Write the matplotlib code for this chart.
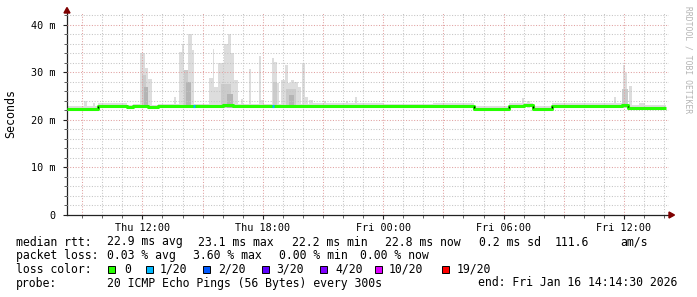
import matplotlib
matplotlib.use('Agg')
import matplotlib.pyplot as plt
from matplotlib.patches import Polygon, Rectangle

plt.rcParams['font.family'] = ['DejaVu Sans Mono']

# time axis in hours since Thu 00:00 (Thu 08:14:30 .. Fri 14:14:30)
t_start, t_end = 8.2417, 38.2417
tick_hours = [12, 18, 24, 30, 36]
tick_labels = ['Thu 12:00', 'Thu 18:00', 'Fri 00:00', 'Fri 06:00', 'Fri 12:00']
y_ticks = [0, 10, 20, 30, 40]
y_labels = ['0', '10 m', '20 m', '30 m', '40 m']

# median rtt (ms), step segments: start hour, value
median_t = [8.25, 9.8, 11.25, 11.55, 12.3, 12.8, 16.0, 16.5, 17.8, 20.5, 24.0,
            26.5, 28.5, 30.25, 31.0, 31.45, 32.4, 35.9, 36.2]
median_v = [22.35, 22.95, 22.7, 22.85, 22.7, 22.85, 23.1, 22.9, 22.85, 22.95, 22.9,
            22.95, 22.35, 22.95, 23.1, 22.4, 22.95, 23.1, 22.6]
median_end = 38.1

# segments with 1/20 packet loss
loss_t0 = [14.5, 18.45]
loss_t1 = [14.6, 18.55]

# smoke spikes: start hour, end hour, top (ms), shade level 0 light .. 2 dark
spike_t0 = [11.9, 12.05, 12.25, 12.0, 12.1, 9.1, 9.55, 13.55,
            13.8, 13.95, 14.05, 14.25, 14.4, 14.15,
            15.3, 15.5, 15.55, 15.75, 16.05, 16.25, 16.4, 16.55, 15.9, 16.2, 16.9,
            17.3, 17.8, 17.9, 18.45, 18.55, 18.7, 18.9, 19.1, 19.25, 19.4, 19.55,
            19.75, 19.95, 20.1, 20.3, 21.05, 22.15, 22.6, 18.5, 19.15, 19.3,
            30.9, 31.15, 35.5, 35.95, 36.05, 36.25, 35.9, 36.75]
spike_t1 = [12.15, 12.3, 12.5, 12.2, 12.3, 9.25, 9.65, 13.65,
            14.05, 14.05, 14.25, 14.45, 14.55, 14.4,
            15.5, 15.55, 15.75, 16.05, 16.25, 16.4, 16.55, 16.75, 16.4, 16.5, 17.0,
            17.4, 17.9, 18.05, 18.55, 18.7, 18.8, 19.1, 19.25, 19.4, 19.55, 19.75,
            19.9, 20.1, 20.25, 20.5, 21.15, 22.25, 22.7, 18.7, 19.65, 19.55,
            31.0, 31.3, 35.6, 36.05, 36.15, 36.4, 36.2, 37.05]
spike_top = [34.0, 30.9, 28.6, 29.5, 27.0, 23.9, 23.6, 24.8,
             34.4, 35.9, 30.5, 38.2, 34.7, 28.0,
             28.8, 35.0, 27.0, 31.9, 36.1, 38.2, 34.1, 28.4, 27.5, 25.5, 24.5,
             30.7, 33.5, 24.2, 33.0, 32.3, 27.8, 28.4, 31.6, 27.8, 28.4, 28.1,
             27.0, 31.9, 24.9, 24.2, 23.9, 24.0, 24.9, 28.0, 26.5, 25.2,
             24.7, 23.9, 24.9, 31.6, 29.8, 27.2, 26.5, 23.6]
spike_shade = [0, 0, 0, 1, 2, 0, 0, 0,
               0, 0, 1, 0, 0, 2,
               0, 0, 0, 0, 0, 0, 0, 0, 1, 2, 0,
               0, 0, 0, 0, 0, 0, 0, 0, 0, 0, 0,
               0, 0, 0, 0, 0, 0, 0, 1, 1, 2,
               0, 0, 0, 0, 0, 0, 1, 0]
shade_colors = ['#dddddd', '#cbcbcb', '#b4b4b4']
smoke_base = 22.6

loss_colors = ['#26ff00', '#00b8ff', '#0059ff', '#5e00ff', '#7e00ff', '#dd00ff', '#ff0000']
loss_names = ['0', '1/20', '2/20', '3/20', '4/20', '10/20', '19/20']

W, H = 697, 297
fig = plt.figure(figsize=(W / 100, H / 100), dpi=100)
fig.patch.set_facecolor('white')
ax = fig.add_axes([67 / W, (H - 215) / H, 602 / W, 201.7 / H])
ax.set_xlim(t_start, t_end)
ax.set_ylim(0, 42.46)

# grid
for h in range(9, 39):
    c = '#e0a0a0' if h % 3 == 0 else '#c4c4c4'
    ax.axvline(h, color=c, lw=0.75, ls=(0, (1, 1.6)), zorder=3)
for v in range(2, 43, 2):
    c = '#e0a0a0' if v % 10 == 0 else '#c4c4c4'
    ax.axhline(v, color=c, lw=0.75, ls=(0, (1, 1.6)), zorder=3)

# smoke
mt = median_t + [median_end]
mv = median_v + [median_v[-1]]
ax.fill_between(mt, [v - 0.35 for v in mv], [v + 0.55 for v in mv], step='post',
                color=shade_colors[0], lw=0, zorder=1)
for level in range(3):
    for a, b, top, s in zip(spike_t0, spike_t1, spike_top, spike_shade):
        if s == level:
            ax.bar(a, top - smoke_base, width=b - a, bottom=smoke_base, align='edge',
                   color=shade_colors[s], lw=0, zorder=2)

# median line
ax.step(mt, mv, where='post', color=loss_colors[0], lw=2.2, zorder=5,
        solid_capstyle='butt')
for i in range(1, len(median_t)):
    if abs(median_v[i] - median_v[i - 1]) > 0.3:
        ax.vlines(median_t[i], min(median_v[i], median_v[i - 1]) + 0.1,
                  max(median_v[i], median_v[i - 1]) - 0.1, color='black', lw=1, zorder=6)
for a, b in zip(loss_t0, loss_t1):
    i = max(j for j in range(len(median_t)) if median_t[j] <= a)
    ax.plot([a, b], [median_v[i]] * 2, color=loss_colors[1], lw=2.2, zorder=6,
            solid_capstyle='butt')

# axes
for s in ['top', 'right']:
    ax.spines[s].set_visible(False)
for s in ['left', 'bottom']:
    ax.spines[s].set_color('#222222')
    ax.spines[s].set_linewidth(0.9)
ax.set_xticks(tick_hours, tick_labels)
ax.set_yticks(y_ticks, y_labels)
ax.set_xticks(range(9, 39), minor=True)
ax.set_yticks(range(2, 43, 2), minor=True)
ax.tick_params(axis='both', which='major', length=3, width=0.8, color='#222222',
               labelsize=7.3, pad=2.5)
ax.tick_params(axis='both', which='minor', length=2, width=0.6, color='#444444')
ax.tick_params(axis='y', which='major', pad=5)


def fx(x):
    return x / W


def fy(y):
    return 1 - y / H


fig.text(fx(11), fy(114), 'Seconds', rotation=90, ha='center', va='center', fontsize=8.4)

# arrows
arrow_c = '#7f0000'
fig.patches.append(Polygon([(fx(64), fy(13)), (fx(70), fy(13)), (fx(67), fy(7.5))],
                           closed=True, color=arrow_c, transform=fig.transFigure))
fig.patches.append(Polygon([(fx(669), fy(212)), (fx(669), fy(218)), (fx(674.5), fy(215))],
                           closed=True, color=arrow_c, transform=fig.transFigure))

# watermark
fig.text(fx(688), fy(60), 'RRDTOOL / TOBI OETIKER', rotation=-90, ha='center',
         va='center', fontsize=5.8, color='#b4b4b4')

# legend
rows = [
    (245.5, [(16, 'median rtt:'), (107.3, '22.9 ms avg'), (198.3, '23.1 ms max'),
             (291.7, '22.2 ms min'), (384.6, '22.8 ms now'), (479.3, '0.2 ms sd'),
             (555, '111.6'), (620.7, 'am/s')]),
    (259, [(16, 'packet loss:'), (107.3, '0.03 % avg'), (193.3, '3.60 % max'),
           (279.3, '0.00 % min'), (360, '0.00 % now')]),
    (272.7, [(16, 'loss color:')]),
    (286.5, [(16, 'probe:'), (107.3, '20 ICMP Echo Pings (56 Bytes) every 300s'),
             (478.3, 'end: Fri Jan 16 14:14:30 2026')]),
]
for base, items in rows:
    for x, s in items:
        fig.text(fx(x), fy(base), s, fontsize=8.3, ha='left', va='baseline')

box_x = [108.3, 145.7, 203, 261.7, 320, 375, 441.7]
name_x = [124, 160, 218.3, 276.7, 335, 388.3, 456.7]
for bx, nx, c, n in zip(box_x, name_x, loss_colors, loss_names):
    fig.patches.append(Rectangle((fx(bx), fy(273)), 7 / W, 7 / H, facecolor=c,
                                 edgecolor='black', lw=0.7, transform=fig.transFigure))
    fig.text(fx(nx), fy(272.7), n, fontsize=8.3, ha='left', va='baseline')

fig.savefig('out.png', dpi=100)
